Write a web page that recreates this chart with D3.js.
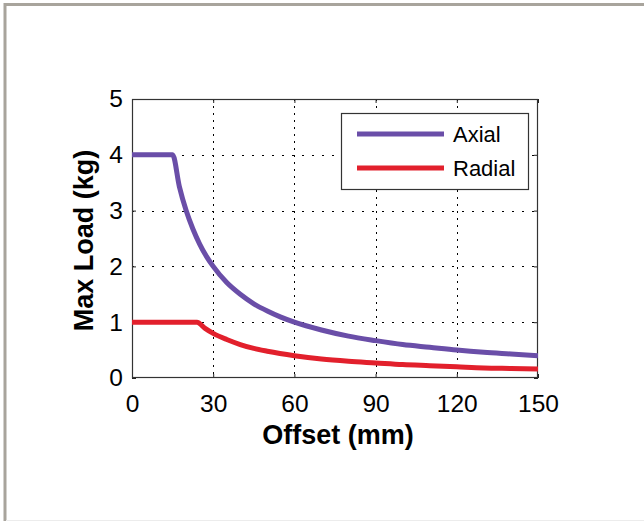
<!DOCTYPE html>
<html>
<head>
<meta charset="utf-8">
<script src="https://cdn.jsdelivr.net/npm/d3@7"></script>
<style>
  html, body { margin: 0; padding: 0; background: #fff; }
  svg { display: block; }
  text { font-family: "Liberation Sans", Arial, sans-serif; fill: #000; }
</style>
</head>
<body>
<svg id="chart" width="644" height="521"></svg>
<script>
// ---- data ----
const axialOffset = [0, 15, 17.5, 20, 22.5, 25, 27.5, 30, 35, 40, 45, 50, 55, 60, 70, 80, 90, 100, 110, 120, 130, 140, 150];
const axialLoad   = [4, 4, 3.43, 3.0, 2.67, 2.4, 2.18, 2.0, 1.71, 1.5, 1.33, 1.2, 1.09, 1.0, 0.86, 0.75, 0.67, 0.6, 0.55, 0.5, 0.46, 0.43, 0.4];
const radialOffset = [0, 24, 27, 30, 35, 40, 45, 50, 60, 70, 80, 90, 100, 110, 120, 130, 140, 150];
const radialLoad   = [1, 1, 0.89, 0.8, 0.69, 0.6, 0.53, 0.48, 0.4, 0.34, 0.3, 0.27, 0.24, 0.22, 0.2, 0.18, 0.17, 0.16];
const xTicks = [0, 30, 60, 90, 120, 150];
const yTicks = [0, 1, 2, 3, 4, 5];
const seriesNames = ["Axial", "Radial"];
const seriesColors = ["#6a4ea8", "#e2202c"];
const xTitle = "Offset (mm)";
const yTitle = "Max Load (kg)";

const svg = d3.select("#chart");

// frame
svg.append("rect").attr("x", 0).attr("y", 0).attr("width", 644).attr("height", 521).attr("fill", "#fff");
svg.append("line").attr("x1", 4).attr("x2", 644).attr("y1", 4.5).attr("y2", 4.5).attr("stroke", "#a8a49c").attr("stroke-width", 3);
svg.append("line").attr("x1", 5).attr("x2", 5).attr("y1", 3).attr("y2", 521).attr("stroke", "#a8a49c").attr("stroke-width", 3);
svg.append("line").attr("x1", 6).attr("x2", 644).attr("y1", 520.5).attr("y2", 520.5).attr("stroke", "#ececec").attr("stroke-width", 1);

const L = 132, R = 538, T = 99, B = 378;
const x = d3.scaleLinear().domain([0, 150]).range([L, R]);
const y = d3.scaleLinear().domain([0, 5]).range([B, T]);

// gridlines
const g = svg.append("g");
g.selectAll(".vg").data(xTicks.slice(1, -1)).join("line")
  .attr("x1", d => Math.round(x(d)) + 0.5).attr("x2", d => Math.round(x(d)) + 0.5)
  .attr("y1", T).attr("y2", B)
  .attr("stroke", "#000").attr("stroke-width", 1).attr("stroke-dasharray", "2,5");
g.selectAll(".hg").data(yTicks.slice(1, -1)).join("line")
  .attr("x1", L).attr("x2", R)
  .attr("y1", d => Math.round(y(d)) + 0.5).attr("y2", d => Math.round(y(d)) + 0.5)
  .attr("stroke", "#000").attr("stroke-width", 1).attr("stroke-dasharray", "2,8");

// axes (ticks inside)
const xAxis = d3.axisBottom(x).tickValues(xTicks).tickSize(-4).tickPadding(10).tickFormat(d3.format("d"));
const yAxis = d3.axisLeft(y).tickValues(yTicks).tickSize(-4).tickPadding(10).tickFormat(d3.format("d"));
const xg = svg.append("g").attr("transform", `translate(0,${B})`).call(xAxis);
const yg = svg.append("g").attr("transform", `translate(${L},0)`).call(yAxis);
const xTop = svg.append("g").attr("transform", `translate(0,${T})`).call(d3.axisTop(x).tickValues(xTicks).tickSize(-4).tickFormat(""));
const yRight = svg.append("g").attr("transform", `translate(${R},0)`).call(d3.axisRight(y).tickValues(yTicks).tickSize(-4).tickFormat(""));
[xg, yg, xTop, yRight].forEach(a => {
  a.select(".domain").remove();
  a.selectAll(".tick line").attr("stroke", "#222");
  a.selectAll("text").attr("font-size", 24.5).attr("font-family", "Liberation Sans, Arial, sans-serif").attr("fill", "#000");
});
xg.selectAll("text").attr("dy", "0.75em").attr("y", 16);
yg.selectAll("text").attr("x", -9);

// box
svg.append("rect").attr("x", L + 0.5).attr("y", T + 0.5).attr("width", R - L - 1).attr("height", B - T - 1)
  .attr("fill", "none").attr("stroke", "#333").attr("stroke-width", 1.2);

// lines
const line = d3.line().x(d => x(d[0])).y(d => y(d[1])).curve(d3.curveMonotoneX);
const series = [
  { name: seriesNames[0], color: seriesColors[0], pts: axialOffset.map((v, i) => [v, axialLoad[i]]) },
  { name: seriesNames[1], color: seriesColors[1], pts: radialOffset.map((v, i) => [v, radialLoad[i]]) }
];
svg.append("defs").append("clipPath").attr("id", "clip").append("rect")
  .attr("x", L).attr("y", T - 5).attr("width", R - L).attr("height", B - T + 5);
svg.append("g").attr("clip-path", "url(#clip)").selectAll("path").data(series).join("path")
  .attr("d", d => line(d.pts)).attr("fill", "none").attr("stroke", d => d.color)
  .attr("stroke-width", 5).attr("stroke-linejoin", "round");

// legend
const lg = svg.append("g");
lg.append("rect").attr("x", 341.5).attr("y", 113.5).attr("width", 187).attr("height", 76)
  .attr("fill", "#fff").attr("stroke", "#333").attr("stroke-width", 1.2);
series.forEach((s, i) => {
  const yy = 134 + i * 34;
  lg.append("line").attr("x1", 357).attr("x2", 444).attr("y1", yy).attr("y2", yy)
    .attr("stroke", s.color).attr("stroke-width", 5);
  lg.append("text").attr("x", 453).attr("y", yy).attr("dy", "0.36em")
    .attr("font-size", 22).text(s.name);
});

// titles
svg.append("text").attr("x", (L + R) / 2 + 3).attr("y", 444).attr("text-anchor", "middle")
  .attr("font-size", 27).attr("font-weight", "bold").text(xTitle);
svg.append("text").attr("transform", `translate(93,${(T + B) / 2 + 2}) rotate(-90)`).attr("text-anchor", "middle")
  .attr("font-size", 27).attr("font-weight", "bold").text(yTitle);
</script>
</body>
</html>
